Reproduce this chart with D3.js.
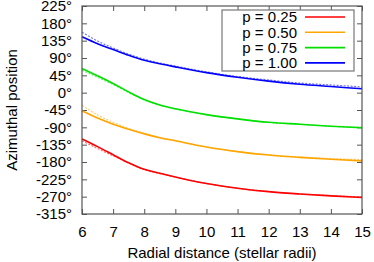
<!DOCTYPE html>
<html>
<head>
<meta charset="utf-8">
<script src="https://cdn.jsdelivr.net/npm/d3@7"></script>
<style>
  body { margin: 0; background: #fff; }
  svg { display: block; font-family: "Liberation Sans", Arial, sans-serif; }
</style>
</head>
<body>
<div id="chart"></div>
<script>
// radial distance samples (stellar radii)
let radii = [6, 6.5, 7, 7.5, 8, 8.5, 9, 10, 11, 12, 13, 14, 15];

// solid curves (degrees)
let p025 = [-120, -140, -161, -182, -199, -209, -219, -236, -248, -257, -263, -268, -272];
let p050 = [-47, -66, -82, -95, -107, -117, -125, -141, -153, -162, -168, -173, -177];
let p075 = [63, 44, 24, 2, -18, -32, -42, -57, -68, -77, -82, -87, -91];
let p100 = [145, 127, 112, 97, 84, 75, 67, 52, 40, 30, 22, 16, 10];

// dotted companion curves (degrees)
let p025b = [-125, -145, -164, -183, -200, -210, -219, -236, -248, -257, -263, -267, -271];
let p050b = [-33, -58, -77, -93, -105, -116, -124, -141, -153, -161, -167, -171, -174];
let p075b = [58, 40, 21, 0, -19, -32, -42, -57, -68, -77, -82, -87, -90];
let p100b = [157, 134, 116, 100, 87, 77, 69, 54, 42, 33, 25, 20, 15];

let labels = ["p = 0.25", "p = 0.50", "p = 0.75", "p = 1.00"];
let colors = ["#ff0000", "#ffa500", "#00e000", "#0000ff"];

let xTicks = [6, 7, 8, 9, 10, 11, 12, 13, 14, 15];
let yTicks = [-315, -270, -225, -180, -135, -90, -45, 0, 45, 90, 135, 180, 225];

let series = [
    {name: labels[0], color: colors[0], solid: p025, dotted: p025b},
    {name: labels[1], color: colors[1], solid: p050, dotted: p050b},
    {name: labels[2], color: colors[2], solid: p075, dotted: p075b},
    {name: labels[3], color: colors[3], solid: p100, dotted: p100b},
];

let W = 374, H = 262;
let margin = {top: 6, right: 12, bottom: 48, left: 82},
    width = W - margin.left - margin.right,
    height = H - margin.top - margin.bottom;

let svg = d3.select("#chart")
    .append("svg")
        .attr("width", W)
        .attr("height", H)
    .append("g")
        .attr("transform", `translate(${margin.left},${margin.top})`);

let x = d3.scaleLinear().domain([6, 15]).range([0, width]);
let y = d3.scaleLinear().domain([-315, 225]).range([height, 0]);

let frame = "#555";

// inward ticks on all four sides, gnuplot style
function styleAxis(g) {
    g.select(".domain").remove();
    g.selectAll(".tick line").attr("stroke", frame);
    g.selectAll(".tick text").attr("fill", "#000").attr("font-size", 15);
}

svg.append("g")
    .attr("transform", `translate(0,${height})`)
    .call(d3.axisBottom(x).tickValues(xTicks).tickSize(-5).tickPadding(12).tickFormat(d3.format("d")))
    .call(styleAxis);
svg.append("g")
    .call(d3.axisTop(x).tickValues(xTicks).tickSize(-5).tickFormat(""))
    .call(styleAxis);
svg.append("g")
    .call(d3.axisLeft(y).tickValues(yTicks).tickSize(-5).tickPadding(10).tickFormat(d => d + "°"))
    .call(styleAxis);
svg.append("g")
    .attr("transform", `translate(${width},0)`)
    .call(d3.axisRight(y).tickValues(yTicks).tickSize(-5).tickFormat(""))
    .call(styleAxis);

let line = d3.line()
    .curve(d3.curveMonotoneX)
    .x(d => x(d[0]))
    .y(d => y(d[1]));

series.forEach(s => {
    svg.append("path")
        .datum(d3.zip(radii, s.dotted))
        .attr("fill", "none")
        .attr("stroke", s.color)
        .attr("stroke-opacity", 0.55)
        .attr("stroke-width", 1.2)
        .attr("stroke-dasharray", "2,1.5")
        .attr("d", line);
    svg.append("path")
        .datum(d3.zip(radii, s.solid))
        .attr("fill", "none")
        .attr("stroke", s.color)
        .attr("stroke-width", 1.6)
        .attr("d", line);
});

// frame
svg.append("rect")
    .attr("width", width)
    .attr("height", height)
    .attr("fill", "none")
    .attr("stroke", frame)
    .attr("stroke-width", 1.2);

// legend
let legend = svg.append("g").attr("transform", `translate(${222 - margin.left},${10 - margin.top})`);
legend.append("rect")
    .attr("width", 132)
    .attr("height", 61)
    .attr("fill", "#fff")
    .attr("stroke", "#777")
    .attr("stroke-width", 1.2);
series.forEach((s, i) => {
    let cy = 7 + i * 15.3;
    legend.append("text")
        .attr("x", 75)
        .attr("y", cy)
        .attr("dy", "0.35em")
        .attr("text-anchor", "end")
        .attr("font-size", 15)
        .text(s.name);
    legend.append("line")
        .attr("x1", 83).attr("x2", 123)
        .attr("y1", cy).attr("y2", cy)
        .attr("stroke", s.color)
        .attr("stroke-width", 1.6);
});

// axis titles
svg.append("text")
    .attr("x", width / 2)
    .attr("y", height + 44)
    .attr("text-anchor", "middle")
    .attr("font-size", 15)
    .text("Radial distance (stellar radii)");
svg.append("text")
    .attr("transform", `translate(${12 - margin.left},${110 - margin.top}) rotate(-90)`)
    .attr("dy", "0.35em")
    .attr("text-anchor", "middle")
    .attr("font-size", 15)
    .text("Azimuthal position");
</script>
</body>
</html>
